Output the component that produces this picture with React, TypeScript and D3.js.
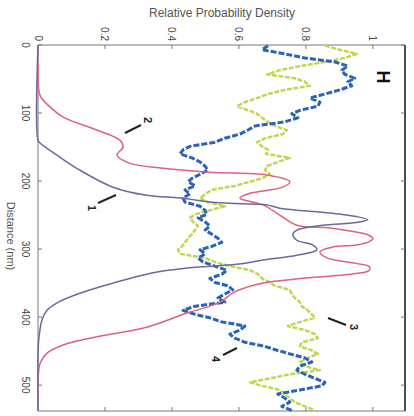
import React, { useEffect, useRef } from "react";
import * as d3 from "d3";

// smooth probability curves (distance nm, relative density)
const curve1Dist = [0, 140, 144, 162, 184, 209, 221, 225, 232, 235, 240, 247, 252, 257, 261, 265, 272, 279, 287, 294, 301, 309, 316, 322, 328, 335, 350, 365, 379, 390, 404, 430, 453, 538];
const curve1Dens = [0, 0, 0.006, 0.057, 0.125, 0.224, 0.325, 0.424, 0.543, 0.684, 0.722, 0.872, 0.95, 0.985, 0.95, 0.85, 0.773, 0.761, 0.773, 0.821, 0.833, 0.773, 0.672, 0.6, 0.44, 0.34, 0.224, 0.125, 0.057, 0.027, 0.012, 0.003, 0, 0];

const curve2Dist = [0, 37, 74, 91, 106, 125, 140, 150, 162, 174, 181, 187, 191, 201, 209, 218, 225, 235, 250, 265, 269, 275, 280, 284, 289, 294, 297, 304, 313, 321, 326, 331, 336, 343, 350, 363, 378, 386, 394, 415, 429, 441, 453, 468, 503, 538];
const curve2Dens = [0, 0, 0.006, 0.036, 0.075, 0.176, 0.245, 0.254, 0.236, 0.275, 0.373, 0.513, 0.684, 0.752, 0.731, 0.633, 0.603, 0.672, 0.722, 0.773, 0.872, 0.95, 0.99, 1.0, 0.99, 0.95, 0.88, 0.842, 0.863, 0.95, 0.99, 0.99, 0.95, 0.79, 0.672, 0.588, 0.543, 0.5, 0.445, 0.325, 0.176, 0.075, 0.027, 0.006, 0, 0];

// noisy traces (3 = yellow-green, 4 = blue)
const traceDist = [1, 7, 13, 19, 25, 31, 37, 43, 49, 54, 60, 66, 72, 78, 84, 90, 96, 101, 107, 113, 119, 125, 131, 137, 143, 149, 154, 160, 166, 172, 178, 184, 190, 196, 201, 207, 213, 219, 225, 231, 237, 243, 249, 254, 260, 266, 272, 278, 284, 290, 296, 301, 307, 313, 319, 325, 331, 337, 343, 349, 354, 360, 366, 372, 378, 384, 390, 396, 401, 407, 413, 419, 425, 431, 437, 443, 449, 454, 460, 466, 472, 478, 484, 490, 496, 501, 507, 513, 519, 525, 531, 537];
const trace4 = [0.687, 0.669, 0.737, 0.797, 0.887, 0.925, 0.907, 0.916, 0.946, 0.925, 0.937, 0.901, 0.857, 0.812, 0.842, 0.836, 0.782, 0.758, 0.776, 0.737, 0.648, 0.627, 0.603, 0.558, 0.528, 0.454, 0.433, 0.424, 0.46, 0.484, 0.499, 0.507, 0.484, 0.46, 0.448, 0.469, 0.439, 0.454, 0.433, 0.439, 0.484, 0.499, 0.504, 0.478, 0.499, 0.513, 0.499, 0.519, 0.537, 0.549, 0.519, 0.484, 0.499, 0.478, 0.493, 0.528, 0.564, 0.549, 0.513, 0.528, 0.567, 0.582, 0.558, 0.537, 0.558, 0.469, 0.433, 0.469, 0.513, 0.549, 0.618, 0.603, 0.573, 0.588, 0.618, 0.678, 0.716, 0.752, 0.797, 0.818, 0.782, 0.773, 0.797, 0.827, 0.857, 0.848, 0.782, 0.716, 0.737, 0.752, 0.728, 0.758];
const trace3 = [0.857, 0.901, 0.952, 0.916, 0.857, 0.782, 0.722, 0.684, 0.767, 0.797, 0.812, 0.737, 0.687, 0.654, 0.618, 0.594, 0.627, 0.654, 0.669, 0.687, 0.707, 0.743, 0.731, 0.678, 0.654, 0.669, 0.687, 0.681, 0.752, 0.716, 0.684, 0.678, 0.693, 0.669, 0.633, 0.588, 0.519, 0.499, 0.484, 0.507, 0.558, 0.513, 0.469, 0.454, 0.463, 0.478, 0.469, 0.46, 0.448, 0.439, 0.43, 0.418, 0.424, 0.499, 0.528, 0.573, 0.633, 0.657, 0.669, 0.693, 0.707, 0.752, 0.758, 0.767, 0.782, 0.788, 0.806, 0.818, 0.827, 0.782, 0.746, 0.797, 0.827, 0.836, 0.788, 0.782, 0.818, 0.836, 0.806, 0.782, 0.797, 0.842, 0.752, 0.693, 0.633, 0.669, 0.722, 0.737, 0.752, 0.767, 0.797, 0.827];

const densTicks = [0, 0.2, 0.4, 0.6, 0.8, 1];
const distTicks = [0, 100, 200, 300, 400, 500];

const App: React.FC = () => {
  const svgRef = useRef<SVGSVGElement>(null);

  useEffect(() => {
    if (!svgRef.current) return;
    const svg = d3.select(svgRef.current);
    svg.selectAll("*").remove();

    const left = 38, right = 405, top = 45, bottom = 411;
    const x = d3.scaleLinear().domain([0, 1.096]).range([left, right]);
    const y = d3.scaleLinear().domain([0, 538]).range([top, bottom]);

    const font = "Liberation Sans, Arial, sans-serif";
    const axisColor = "#777";

    // frame
    svg.append("line").attr("x1", left).attr("x2", right).attr("y1", top).attr("y2", top).attr("stroke", axisColor);
    svg.append("line").attr("x1", left).attr("x2", left).attr("y1", top).attr("y2", bottom).attr("stroke", axisColor);
    svg.append("line").attr("x1", left).attr("x2", right).attr("y1", bottom).attr("y2", bottom).attr("stroke", axisColor);
    svg.append("line").attr("x1", right).attr("x2", right).attr("y1", top).attr("y2", bottom).attr("stroke", "#222").attr("stroke-width", 1.6);

    // density ticks (top + bottom)
    densTicks.forEach((t) => {
      svg.append("line").attr("x1", x(t)).attr("x2", x(t)).attr("y1", top).attr("y2", top + 4).attr("stroke", axisColor);
      svg.append("line").attr("x1", x(t)).attr("x2", x(t)).attr("y1", bottom).attr("y2", bottom - 4).attr("stroke", axisColor);
      svg
        .append("text")
        .attr("transform", `translate(${x(t)},${top - 4}) rotate(90)`)
        .attr("text-anchor", "end")
        .attr("dominant-baseline", "central")
        .style("font-family", font)
        .style("font-size", "10px")
        .attr("fill", "#444")
        .text(t === 0 || t === 1 ? String(t) : t.toFixed(1));
    });

    // distance ticks (left + right)
    distTicks.forEach((t) => {
      svg.append("line").attr("x1", left).attr("x2", left + 4).attr("y1", y(t)).attr("y2", y(t)).attr("stroke", axisColor);
      svg.append("line").attr("x1", right).attr("x2", right - 4).attr("y1", y(t)).attr("y2", y(t)).attr("stroke", axisColor);
      svg
        .append("text")
        .attr("transform", `translate(${left - 13},${y(t)}) rotate(90)`)
        .attr("text-anchor", "middle")
        .attr("dominant-baseline", "central")
        .style("font-family", font)
        .style("font-size", "10px")
        .attr("fill", "#444")
        .text(String(t));
    });

    // axis titles
    svg
      .append("text")
      .attr("x", 222)
      .attr("y", 17)
      .attr("text-anchor", "middle")
      .style("font-family", font)
      .style("font-size", "12px")
      .attr("fill", "#555")
      .text("Relative Probability Density");

    svg
      .append("text")
      .attr("transform", `translate(11,236) rotate(90)`)
      .attr("text-anchor", "middle")
      .attr("dominant-baseline", "central")
      .style("font-family", font)
      .style("font-size", "11px")
      .attr("fill", "#555")
      .text("Distance (nm)");

    const line = d3
      .line<[number, number]>()
      .x((d) => x(d[1]))
      .y((d) => y(d[0]));

    // noisy traces
    const t3 = traceDist.map((d, i) => [d, trace3[i]] as [number, number]);
    const t4 = traceDist.map((d, i) => [d, trace4[i]] as [number, number]);

    svg
      .append("path")
      .datum(t3)
      .attr("d", line)
      .attr("fill", "none")
      .attr("stroke", "#c4d44c")
      .attr("stroke-width", 2.4)
      .attr("stroke-dasharray", "5,1.5")
      .attr("stroke-linejoin", "round");

    svg
      .append("path")
      .datum(t4)
      .attr("d", line)
      .attr("fill", "none")
      .attr("stroke", "#2a63b8")
      .attr("stroke-width", 3)
      .attr("stroke-dasharray", "6,2")
      .attr("stroke-linejoin", "round");

    // smooth curves
    const smooth = d3
      .line<[number, number]>()
      .x((d) => x(d[1]))
      .y((d) => y(d[0]))
      .curve(d3.curveCatmullRom.alpha(0.5));

    svg
      .append("path")
      .datum(curve2Dist.map((d, i) => [d, curve2Dens[i]] as [number, number]))
      .attr("d", smooth)
      .attr("fill", "none")
      .attr("stroke", "#e0607f")
      .attr("stroke-width", 1.5);

    svg
      .append("path")
      .datum(curve1Dist.map((d, i) => [d, curve1Dens[i]] as [number, number]))
      .attr("d", smooth)
      .attr("fill", "none")
      .attr("stroke", "#6a6a9c")
      .attr("stroke-width", 1.5);

    // curve labels with leader lines
    const labels = [
      { t: "1", lx: 92, ly: 208, x1: 98, y1: 203, x2: 116, y2: 195 },
      { t: "2", lx: 148, ly: 120, x1: 125, y1: 133, x2: 141, y2: 125 },
      { t: "3", lx: 354, ly: 327, x1: 328, y1: 318, x2: 346, y2: 325 },
      { t: "4", lx: 216, ly: 359, x1: 223, y1: 355, x2: 237, y2: 348 },
    ];
    labels.forEach((l) => {
      svg.append("line").attr("x1", l.x1).attr("y1", l.y1).attr("x2", l.x2).attr("y2", l.y2).attr("stroke", "#222").attr("stroke-width", 2);
      svg
        .append("text")
        .attr("transform", `translate(${l.lx},${l.ly}) rotate(90)`)
        .attr("text-anchor", "middle")
        .attr("dominant-baseline", "central")
        .style("font-family", font)
        .style("font-size", "11px")
        .style("font-weight", "bold")
        .attr("fill", "#222")
        .text(l.t);
    });

    svg
      .append("text")
      .attr("transform", `translate(383,77) rotate(90)`)
      .attr("text-anchor", "middle")
      .attr("dominant-baseline", "central")
      .style("font-family", font)
      .style("font-size", "18px")
      .style("font-weight", "bold")
      .attr("fill", "#111")
      .text("H");
  }, []);

  return (
    <svg
      ref={svgRef}
      width={414}
      height={416}
      style={{ position: "absolute", left: 0, top: 0, background: "#fff" }}
    />
  );
};

export default App;
